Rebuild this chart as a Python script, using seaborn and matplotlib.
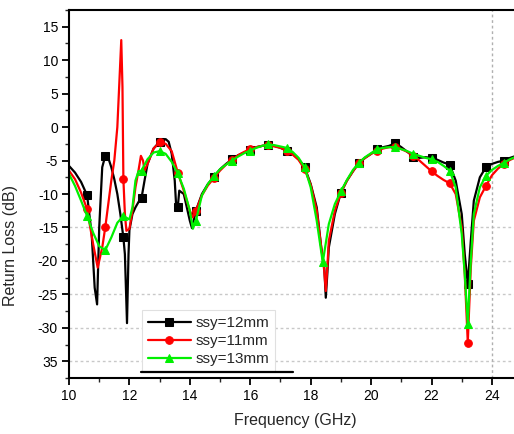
import numpy as np
import pandas as pd
import matplotlib
matplotlib.use("Agg")
import matplotlib.pyplot as plt
import seaborn as sns
from matplotlib.ticker import MultipleLocator, FixedLocator, FixedFormatter

# ---------------- data ----------------
freq_12 = [10.0, 10.2, 10.4, 10.6, 10.75, 10.85, 10.93, 11.0, 11.1, 11.2, 11.3, 11.4, 11.5, 11.6,
           11.7, 11.8, 11.85, 11.92, 11.97, 12.0, 12.1, 12.2, 12.3, 12.4, 12.5, 12.6, 12.8, 13.0,
           13.2, 13.3, 13.4, 13.5, 13.55, 13.6, 13.65, 13.8, 14.0, 14.07, 14.2, 14.4, 14.6, 14.8,
           15.0, 15.2, 15.4, 15.6, 15.8, 16.0, 16.2, 16.4, 16.6, 16.8, 17.0, 17.2, 17.4, 17.6,
           17.8, 18.0, 18.2, 18.35, 18.45, 18.5, 18.55, 18.6, 18.8, 19.0, 19.2, 19.4, 19.6, 19.8,
           20.0, 20.2, 20.4, 20.6, 20.8, 21.0, 21.2, 21.4, 21.6, 21.8, 22.0, 22.2, 22.4, 22.6,
           22.8, 23.0, 23.1, 23.2, 23.3, 23.4, 23.6, 23.8, 24.0, 24.2, 24.4, 24.6, 24.8]
rl_12 = [-5.8, -6.8, -8.2, -10.2, -16.0, -24.0, -26.5, -15.0, -6.0, -4.3, -4.6, -6.0, -7.8, -10.0,
         -13.0, -16.5, -19.0, -29.3, -19.0, -15.4, -13.0, -12.0, -11.2, -10.6, -8.0, -5.5, -3.2, -2.2,
         -1.8, -2.2, -4.0, -8.0, -12.0, -12.0, -9.5, -10.0, -14.0, -15.1, -12.5, -10.0, -8.5, -7.4,
         -6.3, -5.5, -4.8, -4.2, -3.8, -3.4, -3.0, -2.8, -2.7, -2.8, -3.1, -3.5, -4.0, -4.8,
         -6.0, -8.5, -12.0, -18.0, -21.0, -25.5, -22.0, -18.0, -13.0, -9.8, -8.0, -6.6, -5.3, -4.6,
         -4.0, -3.3, -3.0, -2.8, -2.4, -3.0, -3.7, -4.4, -4.6, -4.5, -4.6, -4.9, -5.3, -5.6,
         -8.0, -13.0, -19.0, -23.5, -17.0, -11.0, -7.5, -6.0, -5.5, -5.2, -5.0, -4.6, -4.3]

freq_11 = [10.0, 10.2, 10.4, 10.6, 10.8, 10.95, 11.1, 11.2, 11.4, 11.5, 11.6, 11.68, 11.73, 11.77,
           11.8, 11.85, 11.9, 12.0, 12.1, 12.2, 12.3, 12.38, 12.45, 12.5, 12.6, 12.8, 13.0, 13.2,
           13.4, 13.6, 13.8, 14.0, 14.1, 14.2, 14.4, 14.6, 14.8, 15.0, 15.2, 15.4, 15.6, 15.8,
           16.0, 16.2, 16.4, 16.6, 16.8, 17.0, 17.2, 17.4, 17.6, 17.8, 18.0, 18.2, 18.35, 18.45,
           18.5, 18.55, 18.6, 18.8, 19.0, 19.2, 19.4, 19.6, 19.8, 20.0, 20.2, 20.4, 20.6, 20.8,
           21.0, 21.2, 21.4, 21.6, 21.8, 22.0, 22.2, 22.4, 22.6, 22.8, 23.0, 23.1, 23.2, 23.3,
           23.4, 23.6, 23.8, 24.0, 24.2, 24.4, 24.6, 24.8]
rl_11 = [-6.5, -7.8, -9.8, -12.3, -17.5, -21.0, -18.0, -15.0, -8.0, -5.0, 0.0, 8.0, 13.0, 6.0,
         -7.8, -13.0, -15.5, -15.2, -12.5, -9.0, -6.5, -4.3, -5.0, -6.5, -5.5, -3.2, -2.3, -2.5,
         -3.6, -6.8, -9.5, -12.5, -13.5, -12.5, -10.2, -8.7, -7.6, -6.5, -5.6, -4.9, -4.2, -3.7,
         -3.3, -3.0, -2.8, -2.7, -2.9, -3.1, -3.5, -4.1, -4.9, -6.3, -8.6, -12.5, -18.0, -21.5,
         -24.5, -21.0, -17.0, -12.5, -9.8, -8.0, -6.6, -5.4, -4.6, -4.0, -3.5, -3.2, -3.0, -3.0,
         -3.3, -3.7, -4.3, -5.0, -5.8, -6.6, -7.3, -7.9, -8.4, -10.0, -15.0, -22.0, -32.2, -21.0,
         -14.0, -10.5, -8.8, -7.2, -6.2, -5.5, -4.9, -4.5]

freq_13 = [10.0, 10.2, 10.4, 10.6, 10.8, 11.0, 11.2, 11.4, 11.6, 11.8, 12.0, 12.1, 12.2, 12.3,
           12.4, 12.6, 12.8, 13.0, 13.2, 13.4, 13.6, 13.8, 14.0, 14.1, 14.2, 14.4, 14.6, 14.8,
           15.0, 15.2, 15.4, 15.6, 15.8, 16.0, 16.2, 16.4, 16.6, 16.8, 17.0, 17.2, 17.4, 17.6,
           17.8, 18.0, 18.2, 18.4, 18.6, 18.8, 19.0, 19.2, 19.4, 19.6, 19.8, 20.0, 20.2, 20.4,
           20.6, 20.8, 21.0, 21.2, 21.4, 21.6, 21.8, 22.0, 22.2, 22.4, 22.6, 22.8, 23.0, 23.1,
           23.2, 23.3, 23.4, 23.6, 23.8, 24.0, 24.2, 24.4, 24.6, 24.8]
rl_13 = [-7.0, -8.8, -11.0, -13.3, -15.8, -17.8, -18.4, -16.5, -14.3, -13.3, -13.8, -12.0, -8.0, -6.6,
         -6.5, -4.8, -3.8, -3.6, -4.0, -5.2, -6.9, -9.2, -12.5, -15.2, -14.0, -10.2, -8.5, -7.3,
         -6.3, -5.6, -5.0, -4.4, -3.9, -3.5, -3.1, -2.8, -2.6, -2.7, -2.9, -3.1, -3.7, -4.6,
         -6.0, -9.0, -14.0, -20.2, -14.5, -11.5, -9.6, -7.9, -6.4, -5.3, -4.5, -3.9, -3.3, -3.1,
         -3.0, -3.0, -3.3, -3.6, -4.0, -4.3, -4.6, -4.8, -5.2, -5.8, -6.5, -9.0, -16.0, -22.0,
         -29.4, -20.0, -13.0, -9.0, -7.3, -6.4, -5.8, -5.3, -4.8, -4.4]

labels = ["ssy=12mm", "ssy=11mm", "ssy=13mm"]
colors = ["#000000", "#ff0000", "#00f000"]
markers = ["s", "o", "^"]

xticks = [10, 12, 14, 16, 18, 20, 22, 24]
yticks = [15, 10, 5, 0, -5, -10, -15, -20, -25, -30, -35]
ytick_labels = ["15", "10", "5", "0", "-5", "-10", "-15", "-20", "-25", "-30", "35"]
hgrid = [-15, -20, -25, -30, -35]
vgrid = [24]

# ---------------- plot ----------------
sns.set_style("ticks")
plt.rcParams["font.family"] = ["Liberation Sans", "DejaVu Sans"]

fig = plt.figure(figsize=(5.14, 4.34), dpi=100)
ax = fig.add_axes([69 / 514, 56 / 434, 1 - 69 / 514, 368 / 434])

for yv in hgrid:
    ax.axhline(yv, color="#c8c8c8", lw=1.0, ls=(0, (2, 2)), zorder=0)
for xv in vgrid:
    ax.axvline(xv, color="#b0b0b0", lw=1.0, ls=(0, (2, 2)), zorder=0)

series = [(freq_12, rl_12), (freq_11, rl_11), (freq_13, rl_13)]
for (fx, fy), lab, col, mk in zip(series, labels, colors, markers):
    idx = [i for i, f in enumerate(fx)
           if abs(10 + round((f - 10) / 0.6) * 0.6 - f) < 1e-6 and f > 10.01]
    df = pd.DataFrame({"Frequency": fx, "RL": fy})
    sns.lineplot(data=df, x="Frequency", y="RL", ax=ax, color=col, lw=1.6,
                 marker=mk, markersize=5.5, markeredgecolor=col, markevery=idx,
                 estimator=None, sort=False, label=lab)

ax.set_xlim(10, 24.73)
ax.set_ylim(-37.5, 17.5)
ax.xaxis.set_major_locator(FixedLocator(xticks))
ax.xaxis.set_minor_locator(MultipleLocator(1))
ax.yaxis.set_major_locator(FixedLocator(yticks))
ax.yaxis.set_major_formatter(FixedFormatter(ytick_labels))
ax.yaxis.set_minor_locator(MultipleLocator(2.5))
ax.tick_params(axis="both", which="major", direction="out", length=5, width=1.3,
               labelsize=10, colors="black", pad=3)
ax.tick_params(axis="both", which="minor", direction="out", length=3, width=1.0)
ax.tick_params(axis="x", which="both", top=False)
ax.tick_params(axis="y", which="both", right=False)

for s in ["left", "bottom", "top"]:
    ax.spines[s].set_visible(True)
    ax.spines[s].set_linewidth(1.5)
    ax.spines[s].set_color("black")
ax.spines["right"].set_visible(False)

ax.set_xlabel("Frequency (GHz)", fontsize=11.5)
ax.set_ylabel("Return Loss (dB)", fontsize=11.5)
ax.xaxis.set_label_coords(0.508, -0.095)
ax.yaxis.set_label_coords(-0.115, 0.36)

leg = ax.legend(loc="lower left", bbox_to_anchor=(0.164, 0.016), fontsize=11,
                frameon=True, fancybox=False, edgecolor="#e0e0e0", framealpha=1,
                handlelength=2.8, handletextpad=0.3, labelspacing=0.25,
                borderpad=0.4, borderaxespad=0)
leg.get_frame().set_linewidth(0.8)
ax.plot([0.162, 0.503], [0.017, 0.017], transform=ax.transAxes, color="black",
        lw=1.6, clip_on=False, zorder=10)

fig.savefig("out.png", dpi=100, facecolor="white")
